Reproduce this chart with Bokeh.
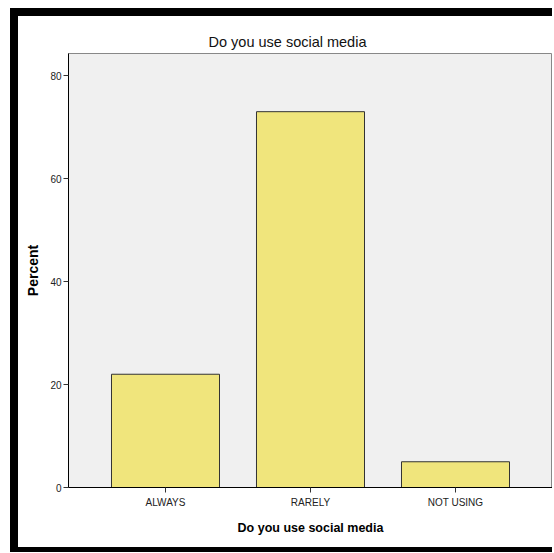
from bokeh.plotting import figure
from bokeh.models import FactorRange, Range1d, ColumnDataSource, FixedTicker
from bokeh.embed import file_html
from bokeh.resources import INLINE

categories = ["ALWAYS", "RARELY", "NOT USING"]
percent = [22, 73, 5]
y_ticks = [0, 20, 40, 60, 80]

src = ColumnDataSource(data=dict(cat=categories, pct=percent))

p = figure(
    x_range=FactorRange(factors=categories, range_padding=0.169, range_padding_units="absolute"),
    y_range=Range1d(0, 84.3),
    frame_width=484, frame_height=434,
    min_border_left=50, min_border_top=37, min_border_right=0, min_border_bottom=60,
    output_backend="svg", toolbar_location=None,
    title="Do you use social media",
    styles={"margin-left": "18px", "margin-top": "16px",
            "box-shadow": "0 -8px 0 0 black, -8px 0 0 0 black, -8px -8px 0 0 black, "
                          "0 5px 0 0 black, -8px 5px 0 0 black"},
)

p.vbar(x="cat", top="pct", width=0.745, source=src,
       fill_color="#f0e57c", line_color="#333333", line_width=1)

p.background_fill_color = "#f0f0f0"
p.border_fill_color = "white"
p.outline_line_color = "#888888"
p.outline_line_width = 1
p.xgrid.visible = False
p.ygrid.visible = False

p.title.align = "left"
p.title.offset = 140
p.title.text_font = "Liberation Sans"
p.title.text_font_size = "14.5px"
p.title.text_font_style = "normal"
p.title.text_color = "#111111"
p.title.standoff = 8

p.yaxis.ticker = FixedTicker(ticks=y_ticks)
p.yaxis.minor_tick_line_color = None
p.yaxis.major_tick_out = 5
p.yaxis.major_tick_in = 0
p.yaxis.major_label_standoff = 2
p.yaxis.axis_label = "Percent"
p.yaxis.axis_label_standoff = 6
p.xaxis.axis_label = "Do you use social media"
p.xaxis.major_tick_out = 5
p.xaxis.major_tick_in = 0
p.xaxis.major_label_standoff = 4
p.xaxis.axis_label_standoff = 10

for ax in (p.xaxis[0], p.yaxis[0]):
    ax.axis_line_color = "black"
    ax.major_tick_line_color = "#333333"
    ax.major_label_text_font = "Liberation Sans"
    ax.major_label_text_font_size = "10px"
    ax.major_label_text_color = "#222222"
    ax.axis_label_text_font = "Liberation Sans"
    ax.axis_label_text_font_style = "bold"
    ax.axis_label_text_color = "black"

p.xaxis.axis_label_text_font_size = "12.5px"
p.yaxis.axis_label_text_font_size = "14px"

open("out.html", "w").write(file_html(p, INLINE))
